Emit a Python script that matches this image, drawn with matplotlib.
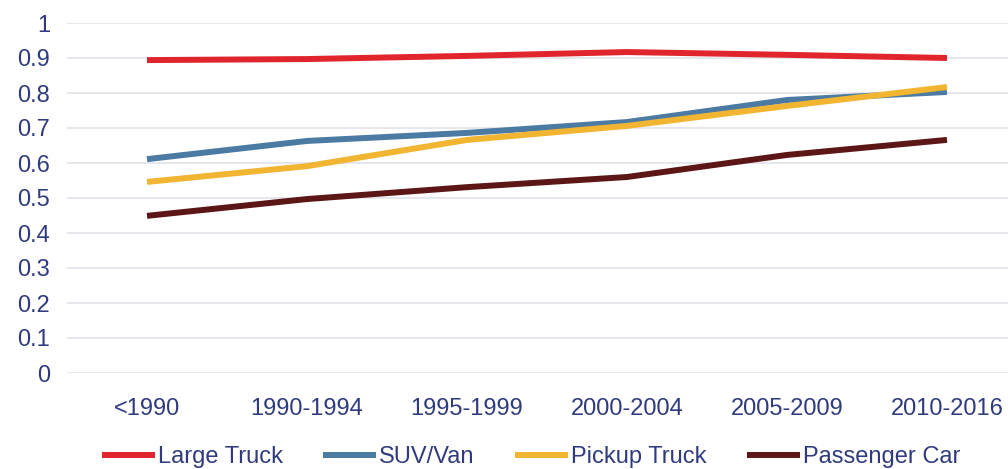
import numpy as np
import matplotlib.pyplot as plt

plt.rcParams['font.family'] = ['Liberation Sans', 'DejaVu Sans']

categories = ['<1990', '1990-1994', '1995-1999', '2000-2004', '2005-2009', '2010-2016']
large_truck = [0.894, 0.897, 0.906, 0.917, 0.909, 0.900]
suv_van = [0.611, 0.663, 0.686, 0.717, 0.780, 0.803]
pickup_truck = [0.546, 0.591, 0.666, 0.706, 0.763, 0.817]
passenger_car = [0.449, 0.497, 0.531, 0.560, 0.623, 0.666]

text_col = '#2f3b7e'

fig = plt.figure(figsize=(10.08, 4.69), dpi=100)
ax = fig.add_axes([67 / 1008, 96 / 469, 960 / 1008, 350 / 469])

x = np.arange(len(categories))
ax.plot(x, large_truck, color='#e0262c', lw=4.3, label='Large Truck', solid_capstyle='butt')
ax.plot(x, suv_van, color='#4b7aa2', lw=4.3, label='SUV/Van', solid_capstyle='butt')
ax.plot(x, pickup_truck, color='#f1b531', lw=4.3, label='Pickup Truck', solid_capstyle='butt')
ax.plot(x, passenger_car, color='#5c1616', lw=4.3, label='Passenger Car', solid_capstyle='butt')

ax.set_xlim(-0.5, len(categories) - 0.5)
ax.set_ylim(0, 1)
ax.set_yticks(np.arange(0, 1.01, 0.1))
ax.set_yticklabels(['0', '0.1', '0.2', '0.3', '0.4', '0.5', '0.6', '0.7', '0.8', '0.9', '1'])
ax.set_xticks(x)
ax.set_xticklabels(categories)
ax.tick_params(axis='both', length=0, labelsize=17, labelcolor=text_col)
ax.tick_params(axis='x', pad=18)
ax.tick_params(axis='y', pad=12)
ax.grid(axis='y', color='#dfe3ea', lw=1.2)
ax.set_axisbelow(True)
for s in ax.spines.values():
    s.set_visible(False)

fig.legend(loc='center', bbox_to_anchor=(531 / 1008, 1 - 457 / 469), ncol=4, frameon=False,
           fontsize=17, labelcolor=text_col, handlelength=2.25, handletextpad=0.13,
           columnspacing=1.7)

fig.savefig('out.png', dpi=100)
